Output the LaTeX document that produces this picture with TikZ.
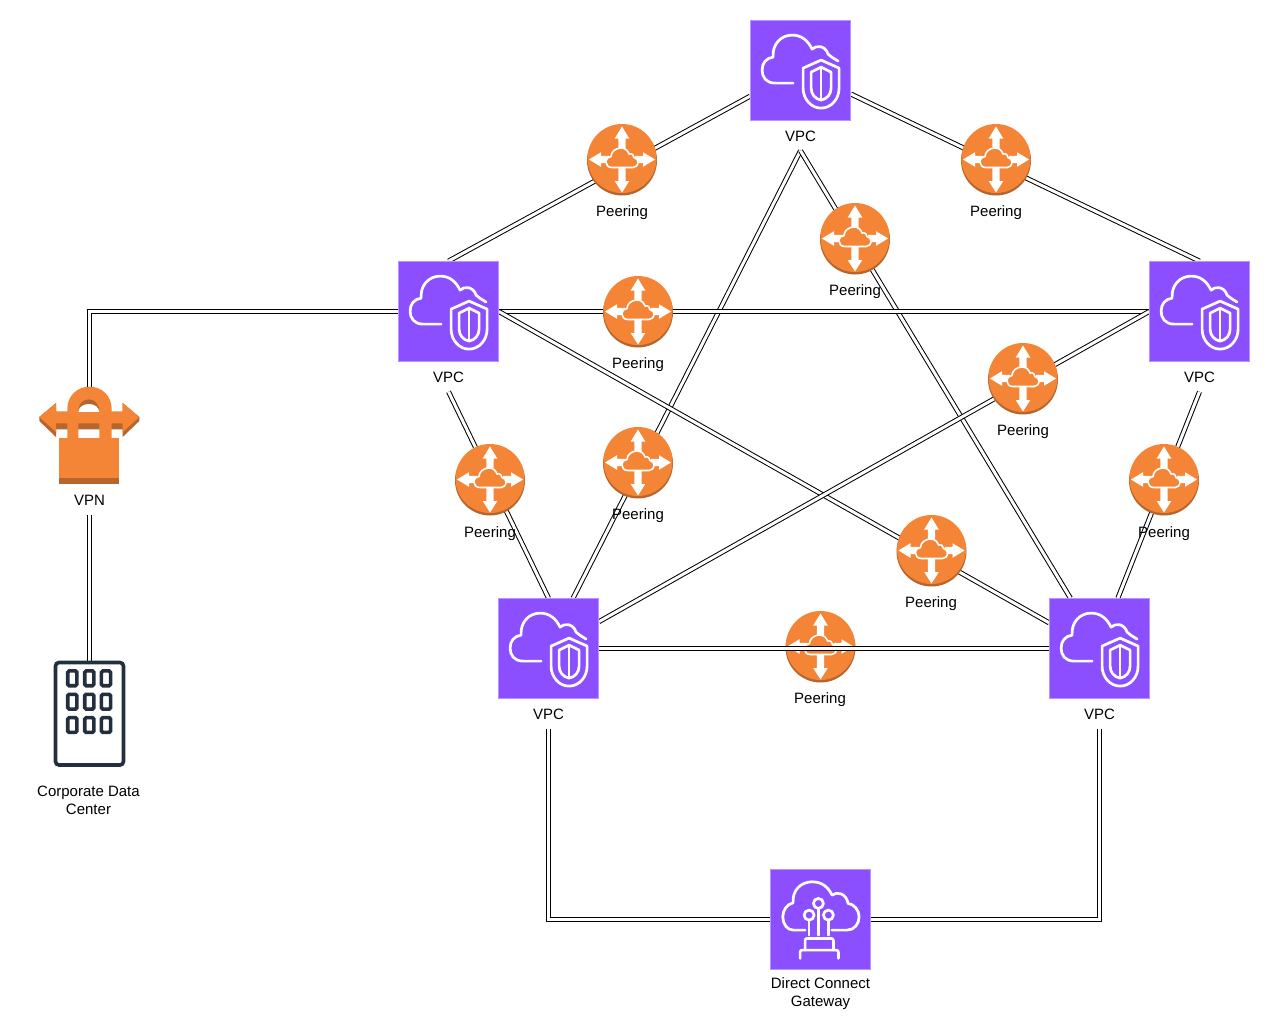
\documentclass[tikz,border=0pt]{standalone}
\usepackage{fontspec}
\setmainfont{Liberation Sans}
\usetikzlibrary{backgrounds}
\definecolor{vpcfill}{HTML}{8C4FFF}
\definecolor{vpcedge}{HTML}{B794FF}
\definecolor{awsorange}{HTML}{F58536}
\definecolor{awsdark}{HTML}{B7652C}
\definecolor{inkdark}{HTML}{232F3E}
\tikzset{
  purplebox/.style={rectangle,draw=vpcedge,fill=vpcfill,line width=.8pt,minimum size=100pt,inner sep=0pt},
  ghostbox/.style={rectangle,inner sep=0pt,minimum width=#1},
  lbl/.style={align=center,inner sep=0pt,font=\fontsize{15pt}{18pt}\selectfont,minimum height=30pt,text height=14pt,text depth=2.7pt},
  lbltwo/.style={align=center,inner sep=0pt,font=\fontsize{15pt}{18pt}\selectfont},
  link/.style={draw=black,double=white,double distance=3pt,line width=1pt,line join=miter},
  routerdisc/.style={circle,fill=awsorange,minimum size=68pt,inner sep=0pt},
  glyph/.style={draw=white,line width=2.7pt,line cap=round,line join=round,fill=none},
  vpcglyph/.pic={
    \draw[glyph] (43,63) -- (25,63) .. controls (16,63) and (12,57) .. (12,50)
      .. controls (12,43) and (16,38) .. (23,37)
      .. controls (22,24) and (31,15) .. (42,15)
      .. controls (52,15) and (58,21) .. (62,29)
      .. controls (66,25) and (75,25) .. (78,34)
      .. controls (81,37) and (85,39) .. (88,41);
    \draw[glyph] (71,40) -- (53,48) -- (53,68) .. controls (53,79) and (61,88) .. (71,88)
      .. controls (81,88) and (89,79) .. (89,68) -- (89,48) -- cycle;
    \draw[glyph] (71,47) -- (61,52) -- (61,68) .. controls (61,74) and (65,79) .. (71,80)
      .. controls (77,79) and (81,74) .. (81,68) -- (81,52) -- cycle;
    \draw[glyph] (71,47) -- (71,80);
  },
  dxglyph/.pic={
    \draw[glyph] (35,61) -- (23.3,61) .. controls (17,61) and (12.7,55) .. (12.7,47.7)
      .. controls (12.7,41) and (17,35) .. (23,33.7)
      .. controls (22,21) and (31,12.7) .. (42,12.7)
      .. controls (52,12.7) and (58,18) .. (62,26)
      .. controls (67,22) and (76,24) .. (78,34.3)
      .. controls (84,35) and (89,41) .. (89,47.7)
      .. controls (89,55) and (84,61) .. (77,61) -- (61.7,61);
    \draw[glyph] (48.3,34.3) circle (5);
    \draw[glyph] (39,46) circle (5);
    \draw[glyph] (58.3,46) circle (5);
    \draw[glyph] (48.3,39.3) -- (48.3,66);
    \draw[glyph] (39,51) -- (39,66);
    \draw[glyph] (58.3,51) -- (58.3,66);
    \draw[glyph,rounded corners=2pt] (35,81) -- (35,69.3) -- (63.3,69.3) -- (63.3,81);
    \draw[glyph,rounded corners=2pt] (30,89.3) -- (30,81) -- (68.3,81) -- (68.3,89.3);
  },
  routerglyph/.pic={
    \fill[white] (0,-33) -- (7.3,-21) -- (3.7,-21) -- (3.7,-11) -- (-3.7,-11) -- (-3.7,-21) -- (-7.3,-21) -- cycle;
    \fill[white] (0,33) -- (7.3,21.5) -- (3.7,21.5) -- (3.7,8) -- (-3.7,8) -- (-3.7,21.5) -- (-7.3,21.5) -- cycle;
    \fill[white] (-33,0) -- (-21,-7.3) -- (-21,-3.7) -- (-13,-3.7) -- (-13,3.7) -- (-21,3.7) -- (-21,7.3) -- cycle;
    \fill[white] (33,0) -- (21,-7.3) -- (21,-3.7) -- (13,-3.7) -- (13,3.7) -- (21,3.7) -- (21,7.3) -- cycle;
    \draw[draw=white,fill=awsorange,line width=1.6pt,line join=round]
      (-10,8) .. controls (-14,8) and (-16,5.5) .. (-16,2.5)
      .. controls (-16,-1) and (-13.5,-3) .. (-11,-3)
      .. controls (-11,-8) and (-6,-11.5) .. (-1,-11.5)
      .. controls (3,-11.5) and (6,-9) .. (7,-5.5)
      .. controls (10,-6.5) and (12,-4) .. (12,-2)
      .. controls (14.5,-1.5) and (16,0.5) .. (16,2.5)
      .. controls (16,6) and (13.5,8) .. (11,8) -- cycle;
  },
  routerbase/.pic={
    \fill[awsdark] (0,1) circle (35);
    \fill[awsorange] (0,-1) circle (34.5);
  },
  vpnglyph/.pic={
    \fill[awsdark] (39.3,417) -- (56,403) -- (56,411.7) -- (122.7,411.7) -- (122.7,403) -- (139.3,417) -- (139.3,421) -- (122.7,437) -- (122.7,429.3) -- (56,429.3) -- (56,437) -- (39.3,421) -- cycle;
    \fill[awsorange] (39.3,417) -- (56,403) -- (56,411.7) -- (122.7,411.7) -- (122.7,403) -- (139.3,417) -- (122.7,432) -- (122.7,423.3) -- (56,423.3) -- (56,432) -- cycle;
    \fill[awsorange] (67.3,438) -- (67.3,409) .. controls (67.3,396) and (77,386.7) .. (89.5,386.7) .. controls (102,386.7) and (111.7,396) .. (111.7,409) -- (111.7,438) -- (99.3,438) -- (99.3,412) -- (78.3,412) -- (78.3,438) -- cycle;
    \fill[awsdark] (78.3,411.7) .. controls (78.3,404) and (83,399.3) .. (88.8,399.3) .. controls (94.6,399.3) and (99.3,404) .. (99.3,411.7) -- cycle;
    \fill[white] (78.3,411.8) .. controls (79,407) and (83,404) .. (88.8,404) .. controls (94.6,404) and (98.6,407) .. (99.3,411.8) -- cycle;
    \fill[awsorange] (59.3,438) rectangle (119.3,478);
    \fill[awsdark] (59.3,478) rectangle (119.3,484);
  },
  dcglyph/.pic={
    \draw[draw=inkdark,line width=3.6pt,rounded corners=3.5pt] (55.5,662.5) rectangle (123.5,765);
    \foreach \wx in {72.3,89.3,106}{\foreach \wy in {678.3,701.7,725}{
      \draw[draw=inkdark,line width=3.6pt,rounded corners=1.5pt] (\wx-4.6,\wy-7.4) rectangle (\wx+4.6,\wy+7.4);
    }}
  },
}
\begin{document}
\begin{tikzpicture}[x=1pt,y=-1pt]
\useasboundingbox (0,0) rectangle (1270,1034);
% boxes
\node[purplebox] (vT) at (800.5,70.5) {};
\node[purplebox] (vL) at (448.5,311.5) {};
\node[purplebox] (vR) at (1199.5,311.5) {};
\node[purplebox] (vBL) at (548.5,648.5) {};
\node[purplebox] (vBR) at (1099.5,648.5) {};
\node[purplebox] (dx) at (820.5,919.5) {};
\node[ghostbox=100pt,minimum height=98pt] (vpn) at (89.5,436) {};
\node[ghostbox=70pt,minimum height=105pt] (dc) at (89.5,713.5) {};
% routers
\node[routerdisc] (r1) at (622,159.5) {};
\node[routerdisc] (r2) at (996,159.5) {};
\node[routerdisc] (r3) at (855,238.5) {};
\node[routerdisc] (r4) at (638,311.5) {};
\node[routerdisc] (r5) at (1023,378.5) {};
\node[routerdisc] (r6) at (490,479.5) {};
\node[routerdisc] (r7) at (638,462.5) {};
\node[routerdisc] (r8) at (1164,479.5) {};
\node[routerdisc] (r9) at (931.5,550.5) {};
\node[routerdisc] (r10) at (820.5,646.5) {};
% icons
\foreach \b in {vT,vL,vR,vBL,vBR}{\pic at (\b.north west) {vpcglyph};}
\pic at (dx.north west) {dxglyph};
\pic at (0,0) {vpnglyph};
\pic at (0,0) {dcglyph};
\foreach \r in {r1,r2,r3,r4,r5,r6,r7,r8,r9,r10}{
  \pic at (\r.center) {routerbase};
  \pic at (\r.center) {routerglyph};
}
% labels
\node[lbl] (lT) at (800.5,135.5) {VPC};
\node[lbl] (lL) at (448.5,376.5) {VPC};
\node[lbl] (lR) at (1199.5,376.5) {VPC};
\node[lbl] (lBL) at (548.5,713.5) {VPC};
\node[lbl] (lBR) at (1099.5,713.5) {VPC};
\node[lbl] (lV) at (89.5,500) {VPN};
\node[lbltwo] (lDC) at (88.5,800) {Corporate Data\\Center};
\node[lbltwo] (lDX) at (820.5,994) {Direct Connect\\Gateway};
\node[lbl] (p1) at (622,211) {Peering};
\node[lbl] (p2) at (996,211) {Peering};
\node[lbl] (p3) at (855,290) {Peering};
\node[lbl] (p4) at (638,363) {Peering};
\node[lbl] (p5) at (1023,429.5) {Peering};
\node[lbl] (p6) at (490,532) {Peering};
\node[lbl] (p7) at (638,514) {Peering};
\node[lbl] (p8) at (1164,532) {Peering};
\node[lbl] (p9) at (931,602) {Peering};
\node[lbl] (p10) at (820,698) {Peering};
% connectors behind the icons
\begin{pgfonlayer}{background}
\draw[link] (vT.207) -- (vL.north);
\draw[link] (vT.-25) -- (vR.north);
\draw[link] (lT.south) -- (vBL.64);
\draw[link] (lT.south) -- (vBR.120);
\draw[link] (vL.east) -- (vR.west);
\draw[link] (vL.east) -- (vBR.153);
\draw[link] (vR.west) -- (vBL.28);
\draw[link] (lL.south) -- (vBL.north);
\draw[link] (lR.south) -- (vBR.70);
\draw[link] (vL.west) -| (vpn.north);
\draw[link] (lV.south) -- (dc.north);
\draw[link] (dx.west) -| (lBL.south);
\draw[link] (dx.east) -| (lBR.south);
\end{pgfonlayer}
% this one passes over its router
\draw[link] (vBL.east) -- (vBR.west);
\end{tikzpicture}
\end{document}
